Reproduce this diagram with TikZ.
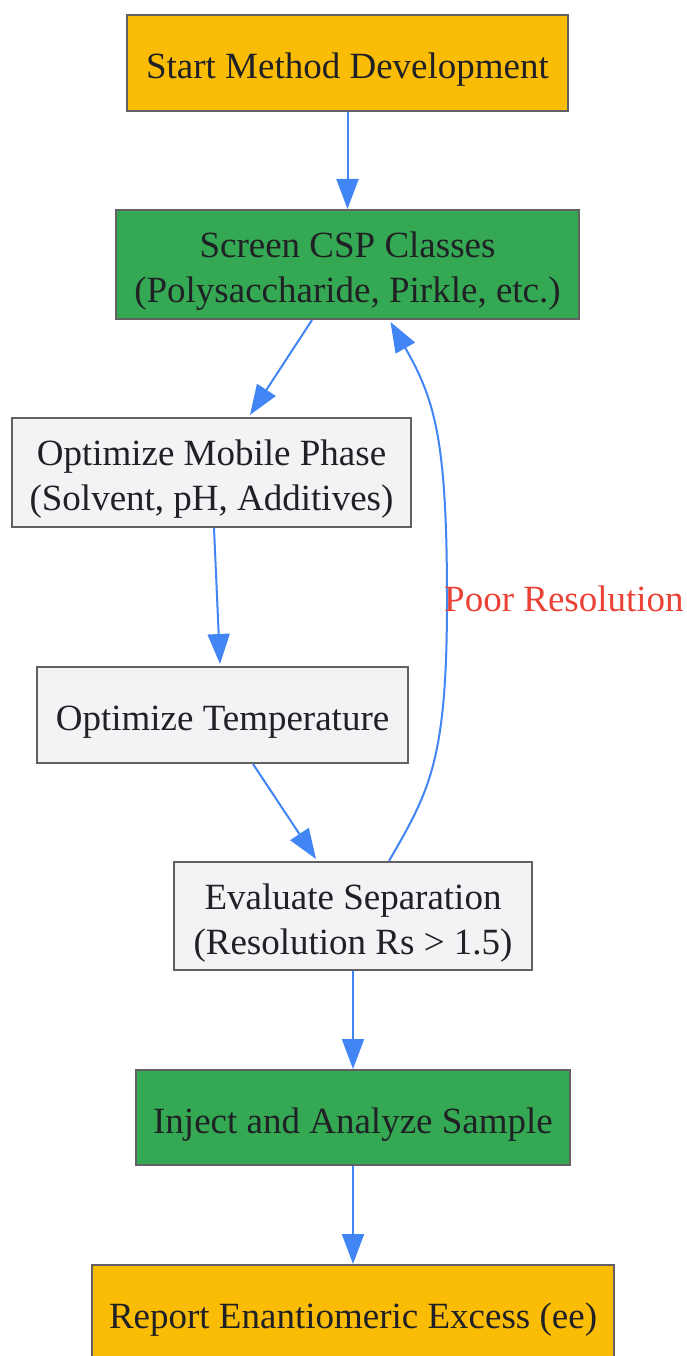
\documentclass[tikz,border=0pt]{standalone}
\usepackage{fontspec}
\setmainfont{Liberation Serif}
\usetikzlibrary{arrows.meta,calc}
\definecolor{cyel}{HTML}{FBBC05}
\definecolor{cgrn}{HTML}{34A853}
\definecolor{cgry}{HTML}{F1F3F4}
\definecolor{cbrd}{HTML}{616161}
\definecolor{carr}{HTML}{4285F4}
\definecolor{clab}{HTML}{EA4335}
\definecolor{ctxt}{HTML}{202124}
\newcommand{\boxtxt}[1]{\raisebox{-6.5pt}[\height][\depth]{\begin{tabular}{@{}c@{}}#1\end{tabular}}}
\tikzset{
  box/.style={draw=cbrd, line width=2pt, inner sep=0pt, text=ctxt,
    font=\fontsize{37}{45}\selectfont},
  ybox/.style={box, fill=cyel},
  gbox/.style={box, fill=cgrn},
  lbox/.style={box, fill=cgry},
  conn/.style={draw=carr, line width=2pt, -{Triangle[length=30pt,width=22pt]}},
  lbl/.style={text=clab, font=\fontsize{37}{45}\selectfont, inner sep=0pt}
}
\begin{document}
\begin{tikzpicture}[x=1pt,y=-1pt]
\clip (0,0) rectangle (687,1356);
\fill[white] (0,0) rectangle (687,1356);
\node[ybox, minimum width=441pt, minimum height=96pt] (n1) at (347.5,63) {\boxtxt{Start Method Development}};
\node[gbox, minimum width=463pt, minimum height=109pt] (n2) at (347.5,264.5) {\boxtxt{Screen CSP Classes\\(Polysaccharide, Pirkle, etc.)}};
\node[lbox, minimum width=399pt, minimum height=109pt] (n3) at (211.5,472.5) {\boxtxt{Optimize Mobile Phase\\(Solvent, pH, Additives)}};
\node[lbox, minimum width=371pt, minimum height=96pt] (n4) at (222.5,715) {\boxtxt{Optimize Temperature}};
\node[lbox, minimum width=358pt, minimum height=108pt] (n5) at (353,916) {\boxtxt{Evaluate Separation\\(Resolution Rs > 1.5)}};
\node[gbox, minimum width=434pt, minimum height=95pt] (n6) at (353,1117.5) {\boxtxt{Inject and Analyze Sample}};
\node[ybox, minimum width=522pt, minimum height=96pt] (n7) at (353,1313) {\boxtxt{Report Enantiomeric Excess (ee)}};

\draw[conn] (n1.south) -- (n2.north);
\draw[conn] ($(n2.south)+(-35.5,0)$) -- ($(n3.north)+(38.5,-2)$);
\draw[conn] ($(n3.south)+(2.5,0)$) -- ($(n4.north)+(-2.5,-2)$);
\draw[conn] ($(n4.south)+(30.5,0)$) -- ($(n5.north)+(-37,-2)$);
\draw[conn] (n5.south) -- (n6.north);
\draw[conn] (n6.south) -- (n7.north);
\coordinate (c1) at (447,600);
\draw[conn] ($(n5.north)+(36,0)$) .. controls (430,790) and (447,760) .. (c1)
  .. controls (447,440) and (435,400) .. ($(n2.south)+(43,2)$);
\node[lbl, anchor=west] (lab) at (444,599) {Poor Resolution};
\end{tikzpicture}
\end{document}
